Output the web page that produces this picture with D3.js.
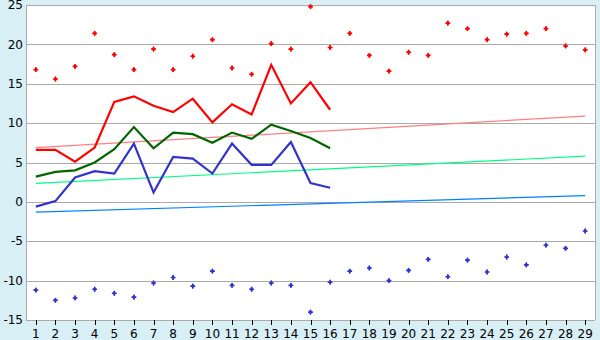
<!DOCTYPE html>
<html>
<head>
<meta charset="utf-8">
<script src="https://cdn.jsdelivr.net/npm/d3@7"></script>
<style>
  body { margin: 0; background: #d9eff6; }
  text { font-family: "DejaVu Sans", sans-serif; font-size: 12px; fill: #000; }
</style>
</head>
<body>
<svg id="chart" width="600" height="340"></svg>
<script>
// chart data
var categories = d3.range(1, 30).map(String);

var maxPoints = [16.8, 15.6, 17.2, 21.4, 18.7, 16.8, 19.4, 16.8, 18.5, 20.6,
  17.0, 16.2, 20.1, 19.4, 24.8, 19.6, 21.4, 18.6, 16.6, 19.0,
  18.6, 22.7, 22.0, 20.6, 21.3, 21.4, 22.0, 19.8, 19.3];

var minPoints = [-11.2, -12.5, -12.2, -11.1, -11.6, -12.1, -10.3, -9.6, -10.7, -8.8,
  -10.6, -11.1, -10.3, -10.6, -14.0, -10.2, -8.8, -8.4, -10.0, -8.7,
  -7.3, -9.5, -7.4, -8.9, -7.0, -8.0, -5.5, -5.9, -3.7];

var redLine = [6.6, 6.6, 5.1, 6.9, 12.7, 13.4, 12.2, 11.4, 13.1, 10.1,
  12.4, 11.1, 17.4, 12.5, 15.2, 11.7];

var greenLine = [3.2, 3.8, 4.0, 5.0, 6.7, 9.5, 6.8, 8.8, 8.6, 7.5,
  8.8, 8.0, 9.8, 9.0, 8.1, 6.8];

var blueLine = [-0.6, 0.1, 3.1, 3.9, 3.6, 7.4, 1.2, 5.7, 5.5, 3.6,
  7.4, 4.7, 4.7, 7.6, 2.4, 1.8];

// trend lines: value at first and last category
var redTrend = [6.9, 10.9];
var greenTrend = [2.35, 5.8];
var blueTrend = [-1.3, 0.8];

var yTicks = [-15, -10, -5, 0, 5, 10, 15, 20, 25];

var svg = d3.select('#chart');
var plotLeft = 26, plotRight = 595, plotTop = 5, plotBottom = 320;

var x = d3.scaleBand().domain(categories).range([plotLeft, plotRight]);
var y = d3.scaleLinear().domain([-15, 25]).range([plotBottom, plotTop]);
var cx = function(i) { return x(categories[i]) + x.bandwidth() / 2; };

// plot area
svg.append('rect')
  .attr('x', plotLeft).attr('y', plotTop)
  .attr('width', plotRight - plotLeft).attr('height', plotBottom - plotTop)
  .attr('fill', '#fff');

// gridlines
svg.append('g').selectAll('line')
  .data(yTicks)
  .enter().append('line')
  .attr('x1', plotLeft).attr('x2', plotRight)
  .attr('y1', function(d) { return Math.round(y(d)) + 0.5; })
  .attr('y2', function(d) { return Math.round(y(d)) + 0.5; })
  .attr('stroke', '#aaa');

// frame (left and right)
svg.append('line').attr('x1', plotLeft + 0.5).attr('x2', plotLeft + 0.5)
  .attr('y1', plotTop).attr('y2', plotBottom).attr('stroke', '#aaa');
svg.append('line').attr('x1', plotRight + 0.5).attr('x2', plotRight + 0.5)
  .attr('y1', plotTop).attr('y2', plotBottom).attr('stroke', '#aaa');

// y labels
svg.append('g').selectAll('text')
  .data(yTicks)
  .enter().append('text')
  .attr('x', plotLeft - 3)
  .attr('y', function(d) { return y(d); })
  .attr('dy', '0.35em')
  .attr('text-anchor', 'end')
  .text(function(d) { return d; });

// x ticks and labels
var xg = svg.append('g');
xg.selectAll('line')
  .data(categories)
  .enter().append('line')
  .attr('x1', function(d, i) { return Math.round(cx(i)) + 0.5; })
  .attr('x2', function(d, i) { return Math.round(cx(i)) + 0.5; })
  .attr('y1', plotBottom).attr('y2', plotBottom + 5)
  .attr('stroke', '#000');
xg.selectAll('text')
  .data(categories)
  .enter().append('text')
  .attr('x', function(d, i) { return cx(i); })
  .attr('y', plotBottom + 14)
  .attr('dy', '0.35em')
  .attr('text-anchor', 'middle')
  .text(function(d) { return d; });

// trend lines
function addTrend(vals, color) {
  svg.append('line')
    .attr('x1', cx(0)).attr('x2', cx(categories.length - 1))
    .attr('y1', y(vals[0])).attr('y2', y(vals[1]))
    .attr('stroke', color).attr('stroke-width', 1.2);
}
addTrend(redTrend, '#ff8080');
addTrend(greenTrend, '#00ff80');
addTrend(blueTrend, '#0080ff');

// series lines
var line = d3.line()
  .x(function(d, i) { return cx(i); })
  .y(function(d) { return y(d); });

function addLine(vals, color) {
  svg.append('path')
    .datum(vals)
    .attr('d', line)
    .attr('fill', 'none')
    .attr('stroke', color)
    .attr('stroke-width', 2.2);
}
addLine(redLine, '#ff0000');
addLine(greenLine, '#006600');
addLine(blueLine, '#3333cc');

// points
var marker = d3.symbol().type(d3.symbolCross).size(13);
function addPoints(vals, color) {
  var g = svg.append('g').selectAll('g')
    .data(vals)
    .enter().append('g')
    .attr('transform', function(d, i) { return 'translate(' + cx(i) + ',' + y(d) + ')'; });
  g.append('path').attr('d', marker).attr('fill', color);
  g.append('path').attr('d', d3.symbol().type(d3.symbolDiamond).size(9)).attr('fill', color);
}
addPoints(maxPoints, '#ff0000');
addPoints(minPoints, '#3333cc');
</script>
</body>
</html>
